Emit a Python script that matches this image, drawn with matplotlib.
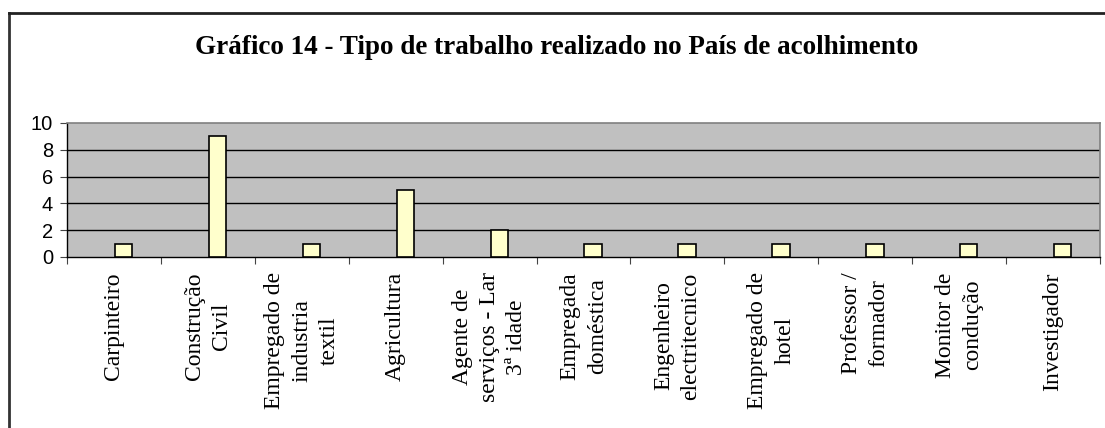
import numpy as np
import matplotlib
matplotlib.use("Agg")
from matplotlib import pyplot as plt
from matplotlib.lines import Line2D

# data
categories = ["Carpinteiro", "Construção\nCivil", "Empregado de\nindustria\ntextil",
              "Agricultura", "Agente de\nserviços - Lar\n3ª idade", "Empregada\ndoméstica",
              "Engenheiro\nelectritecnico", "Empregado de\nhotel", "Professor /\nformador",
              "Monitor de\ncondução", "Investigador"]
counts = [1, 9, 1, 5, 2, 1, 1, 1, 1, 1, 1]
yticks = [0, 2, 4, 6, 8, 10]
title = "Gráfico 14 - Tipo de trabalho realizado no País de acolhimento"

W, H = 1105, 428
fig = plt.figure(figsize=(W / 100, H / 100), dpi=100)
fig.patch.set_facecolor("white")

# outer frame (left and top edge visible)
fig.add_artist(Line2D([8.5 / W, 8.5 / W], [0, 1 - 12.5 / H], transform=fig.transFigure,
                      color="#333333", lw=2))
fig.add_artist(Line2D([8.5 / W, 1], [1 - 12.5 / H, 1 - 12.5 / H], transform=fig.transFigure,
                      color="#222222", lw=2))

ax = fig.add_axes([67 / W, (H - 257) / H, 1033 / W, 134 / H])
ax.set_facecolor("#C0C0C0")

x = np.arange(len(categories))
ax.bar(x + 0.01, counts, width=0.185, align="edge", color="#FFFFCC",
       edgecolor="black", linewidth=1.2, zorder=3)

ax.set_xlim(-0.5, len(categories) - 0.5)
ax.set_ylim(0, 10)
ax.set_yticks(yticks)
ax.set_yticklabels([str(v) for v in yticks], fontsize=14.5, family="Liberation Sans")
for v in yticks[1:-1]:
    ax.axhline(v, color="black", lw=1, zorder=1)

ax.set_xticks(np.arange(len(categories) + 1) - 0.5)
ax.set_xticklabels([])
ax.set_xticks(x, minor=True)
ax.set_xticklabels(categories, minor=True, rotation=90, fontsize=17,
                   family="Liberation Serif", ha="center", va="top",
                   multialignment="center", linespacing=1.4)
ax.tick_params(axis="x", which="major", length=5, color="#444444", direction="out")
ax.tick_params(axis="x", which="minor", length=0, pad=11)
ax.tick_params(axis="y", length=5, pad=5, color="#444444")

for s in ["top", "right"]:
    ax.spines[s].set_color("#808080")
    ax.spines[s].set_linewidth(1.2)
for s in ["left", "bottom"]:
    ax.spines[s].set_color("black")
    ax.spines[s].set_linewidth(1)

fig.text(557 / W, 1 - 48 / H, title, ha="center", va="center",
         fontsize=19.5, fontweight="bold", family="Liberation Serif")

fig.savefig("out.png", dpi=100)
